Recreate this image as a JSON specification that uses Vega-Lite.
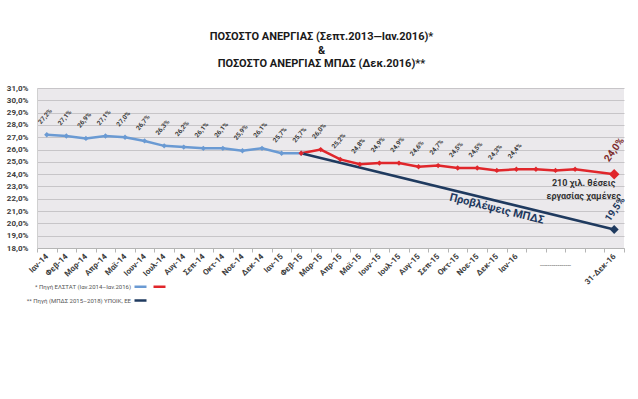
{
  "$schema": "https://vega.github.io/schema/vega-lite/v6.json",
  "autosize": "none",
  "width": 587,
  "height": 160,
  "padding": {"left": 37, "top": 88, "right": 14, "bottom": 151},
  "background": "white",
  "config": {"view": {"fill": "#ebe9ec", "stroke": null}, "font": "Roboto"},
  "title": {
    "text": ["ΠΟΣΟΣΤΟ ΑΝΕΡΓΙΑΣ (Σεπτ.2013—Ιαν.2016)*", "&", "ΠΟΣΟΣΤΟ ΑΝΕΡΓΙΑΣ ΜΠΔΣ (Δεκ.2016)**"],
    "font": "Roboto", "fontSize": 11, "fontWeight": "bold", "color": "#1a1a1a",
    "lineHeight": 13.5, "anchor": "middle", "frame": "group", "offset": 15, "dx": -9
  },
  "datasets": {
    "pts": [
      {"m": "Ιαν-14", "v": 27.2, "s": "ΕΛΣΤΑΤ 2014", "t": "27,2%"},
      {"m": "Φεβ-14", "v": 27.1, "s": "ΕΛΣΤΑΤ 2014", "t": "27,1%"},
      {"m": "Μαρ-14", "v": 26.9, "s": "ΕΛΣΤΑΤ 2014", "t": "26,9%"},
      {"m": "Απρ-14", "v": 27.1, "s": "ΕΛΣΤΑΤ 2014", "t": "27,1%"},
      {"m": "Μαϊ-14", "v": 27.0, "s": "ΕΛΣΤΑΤ 2014", "t": "27,0%"},
      {"m": "Ιουν-14", "v": 26.7, "s": "ΕΛΣΤΑΤ 2014", "t": "26,7%"},
      {"m": "Ιουλ-14", "v": 26.3, "s": "ΕΛΣΤΑΤ 2014", "t": "26,3%"},
      {"m": "Αυγ-14", "v": 26.2, "s": "ΕΛΣΤΑΤ 2014", "t": "26,2%"},
      {"m": "Σεπ-14", "v": 26.1, "s": "ΕΛΣΤΑΤ 2014", "t": "26,1%"},
      {"m": "Οκτ-14", "v": 26.1, "s": "ΕΛΣΤΑΤ 2014", "t": "26,1%"},
      {"m": "Νοε-14", "v": 25.9, "s": "ΕΛΣΤΑΤ 2014", "t": "25,9%"},
      {"m": "Δεκ-14", "v": 26.1, "s": "ΕΛΣΤΑΤ 2014", "t": "26,1%"},
      {"m": "Ιαν-15", "v": 25.7, "s": "ΕΛΣΤΑΤ 2014", "t": "25,7%"},
      {"m": "Φεβ-15", "v": 25.7, "s": "ΕΛΣΤΑΤ 2014", "t": "25,7%"},
      {"m": "Φεβ-15", "v": 25.7, "s": "ΕΛΣΤΑΤ 2015", "t": null},
      {"m": "Μαρ-15", "v": 26.0, "s": "ΕΛΣΤΑΤ 2015", "t": "26,0%"},
      {"m": "Απρ-15", "v": 25.2, "s": "ΕΛΣΤΑΤ 2015", "t": "25,2%"},
      {"m": "Μαϊ-15", "v": 24.8, "s": "ΕΛΣΤΑΤ 2015", "t": "24,8%"},
      {"m": "Ιουν-15", "v": 24.9, "s": "ΕΛΣΤΑΤ 2015", "t": "24,9%"},
      {"m": "Ιουλ-15", "v": 24.9, "s": "ΕΛΣΤΑΤ 2015", "t": "24,9%"},
      {"m": "Αυγ-15", "v": 24.6, "s": "ΕΛΣΤΑΤ 2015", "t": "24,6%"},
      {"m": "Σεπ-15", "v": 24.7, "s": "ΕΛΣΤΑΤ 2015", "t": "24,7%"},
      {"m": "Οκτ-15", "v": 24.5, "s": "ΕΛΣΤΑΤ 2015", "t": "24,5%"},
      {"m": "Νοε-15", "v": 24.5, "s": "ΕΛΣΤΑΤ 2015", "t": "24,5%"},
      {"m": "Δεκ-15", "v": 24.3, "s": "ΕΛΣΤΑΤ 2015", "t": "24,3%"},
      {"m": "Ιαν-16", "v": 24.4, "s": "ΕΛΣΤΑΤ 2015", "t": "24,4%"},
      {"m": "Φεβ-16", "v": 24.4, "s": "ΕΛΣΤΑΤ 2015", "t": null},
      {"m": "Μαρ-16", "v": 24.3, "s": "ΕΛΣΤΑΤ 2015", "t": null},
      {"m": "Απρ-16", "v": 24.4, "s": "ΕΛΣΤΑΤ 2015", "t": null},
      {"m": "31-Δεκ-16", "v": 24.0, "s": "ΕΛΣΤΑΤ 2015", "t": "24,0%"},
      {"m": "Φεβ-15", "v": 25.7, "s": "ΜΠΔΣ", "t": null},
      {"m": "31-Δεκ-16", "v": 19.5, "s": "ΜΠΔΣ", "t": "19,5%"}
    ],
    "notes": [
      {"m": "Μαϊ-16", "v": 23.25, "k": "jobs", "t": "210 χιλ. θέσεις"},
      {"m": "Μαϊ-16", "v": 22.2, "k": "jobs", "t": "εργασίας χαμένες"},
      {"m": "Δεκ-15", "v": 21.15, "k": "proj", "t": "Προβλέψεις ΜΠΔΣ"},
      {"m": "Μαρ-16", "v": 16.55, "k": "dash", "t": "----------------"}
    ]
  },
  "data": {"name": "pts"},
  "encoding": {
    "x": {
      "field": "m", "type": "ordinal",
      "scale": {"type": "band", "paddingInner": 0, "paddingOuter": 0,
        "domain": ["Ιαν-14", "Φεβ-14", "Μαρ-14", "Απρ-14", "Μαϊ-14", "Ιουν-14", "Ιουλ-14", "Αυγ-14", "Σεπ-14", "Οκτ-14", "Νοε-14", "Δεκ-14", "Ιαν-15", "Φεβ-15", "Μαρ-15", "Απρ-15", "Μαϊ-15", "Ιουν-15", "Ιουλ-15", "Αυγ-15", "Σεπ-15", "Οκτ-15", "Νοε-15", "Δεκ-15", "Ιαν-16", "Φεβ-16", "Μαρ-16", "Απρ-16", "Μαϊ-16", "31-Δεκ-16"]},
      "axis": {
        "title": null, "labelAngle": -45, "labelAlign": "right", "labelBaseline": "middle",
        "labelFontSize": 8, "labelFontWeight": "bold", "labelColor": "#404040", "labelPadding": 3,
        "labelOverlap": false, "tickBand": "extent", "tickSize": 4, "tickColor": "#b5b5b5",
        "domainColor": "#b5b5b5", "grid": false,
        "labelExpr": "indexof(['Φεβ-16','Μαρ-16','Απρ-16','Μαϊ-16'], datum.value) >= 0 ? '' : datum.value"
      }
    },
    "y": {
      "field": "v", "type": "quantitative",
      "scale": {"domain": [18, 31], "nice": false, "zero": false},
      "axis": {
        "title": null, "values": [18, 19, 20, 21, 22, 23, 24, 25, 26, 27, 28, 29, 30, 31],
        "labelExpr": "replace(format(datum.value, '.1f'), '.', ',') + '%'",
        "ticks": false, "labelPadding": 9, "labelFontSize": 8, "labelFontWeight": "bold",
        "labelColor": "#404040", "gridColor": "#c7c5c8", "domainColor": "#d0d0d0"
      }
    }
  },
  "layer": [
    {
      "mark": {"type": "line"},
      "encoding": {
        "order": {"value": null},
        "color": {
          "field": "s", "type": "nominal",
          "scale": {"domain": ["ΕΛΣΤΑΤ 2014", "ΕΛΣΤΑΤ 2015", "ΜΠΔΣ"], "range": ["#6a9ad3", "#e0262b", "#1f3a5f"]},
          "legend": {
            "orient": "none", "legendX": 96, "legendY": 191, "columns": 2, "direction": "horizontal", "title": null,
            "symbolType": "stroke", "symbolSize": 144, "symbolStrokeWidth": 2.5,
            "labelAlign": "right", "labelOffset": -17, "labelFontSize": 6, "labelColor": "#555555",
            "labelLimit": 300, "rowPadding": 1, "columnPadding": -112,
            "labelExpr": "datum.value == 'ΕΛΣΤΑΤ 2014' ? '* Πηγή ΕΛΣΤΑΤ (Ιαν.2014–Ιαν.2016)' : datum.value == 'ΜΠΔΣ' ? '** Πηγή (ΜΠΔΣ 2015–2018) ΥΠΟΙΚ, ΕΕ' : ''"
          }
        },
        "strokeWidth": {
          "field": "s", "type": "nominal",
          "scale": {"domain": ["ΕΛΣΤΑΤ 2014", "ΕΛΣΤΑΤ 2015", "ΜΠΔΣ"], "range": [2.5, 2.5, 3.2]},
          "legend": null
        }
      }
    },
    {
      "transform": [{"filter": "datum.s != 'ΜΠΔΣ' && datum.m != '31-Δεκ-16'"}],
      "mark": {"type": "point", "shape": "diamond", "filled": true, "size": 28, "opacity": 1},
      "encoding": {"color": {"field": "s", "type": "nominal", "legend": null}}
    },
    {
      "transform": [{"filter": "datum.s == 'ΕΛΣΤΑΤ 2015' && datum.m == '31-Δεκ-16'"}],
      "mark": {"type": "point", "shape": "diamond", "filled": true, "size": 110, "opacity": 1, "color": "#e0262b"}
    },
    {
      "transform": [{"filter": "datum.s == 'ΜΠΔΣ' && datum.m == '31-Δεκ-16'"}],
      "mark": {"type": "point", "shape": "diamond", "filled": true, "size": 80, "opacity": 1, "color": "#1f3a5f"}
    },
    {
      "transform": [{"filter": "datum.t != null && datum.m != '31-Δεκ-16'"}],
      "mark": {"type": "text", "angle": 310, "align": "center", "baseline": "middle", "dx": 13, "dy": -13, "fontSize": 6.5, "fontWeight": "bold", "color": "#3a3a3a"},
      "encoding": {"text": {"field": "t"}}
    },
    {
      "transform": [{"filter": "datum.s == 'ΕΛΣΤΑΤ 2015' && datum.m == '31-Δεκ-16'"}],
      "mark": {"type": "text", "angle": 305, "align": "center", "baseline": "middle", "dx": 20, "dy": -14, "fontSize": 10, "fontWeight": "bold", "color": "#7b2a2a"},
      "encoding": {"text": {"field": "t"}}
    },
    {
      "transform": [{"filter": "datum.s == 'ΜΠΔΣ' && datum.m == '31-Δεκ-16'"}],
      "mark": {"type": "text", "angle": 305, "align": "center", "baseline": "middle", "dx": 17, "dy": -11, "fontSize": 10, "fontWeight": "bold", "color": "#1f3a5f"},
      "encoding": {"text": {"field": "t"}}
    },
    {
      "data": {"name": "notes"},
      "transform": [{"filter": "datum.k == 'jobs'"}],
      "mark": {"type": "text", "align": "center", "baseline": "middle", "dx": -11, "fontSize": 9, "fontWeight": "bold", "color": "#333333"},
      "encoding": {"text": {"field": "t"}}
    },
    {
      "data": {"name": "notes"},
      "transform": [{"filter": "datum.k == 'proj'"}],
      "mark": {"type": "text", "align": "center", "baseline": "middle", "angle": 14, "fontSize": 11, "fontWeight": "bold", "color": "#1f3a5f"},
      "encoding": {"text": {"field": "t"}}
    },
    {
      "data": {"name": "notes"},
      "transform": [{"filter": "datum.k == 'dash'"}],
      "mark": {"type": "text", "align": "center", "baseline": "middle", "fontSize": 7, "color": "#666666"},
      "encoding": {"text": {"field": "t"}}
    }
  ]
}
